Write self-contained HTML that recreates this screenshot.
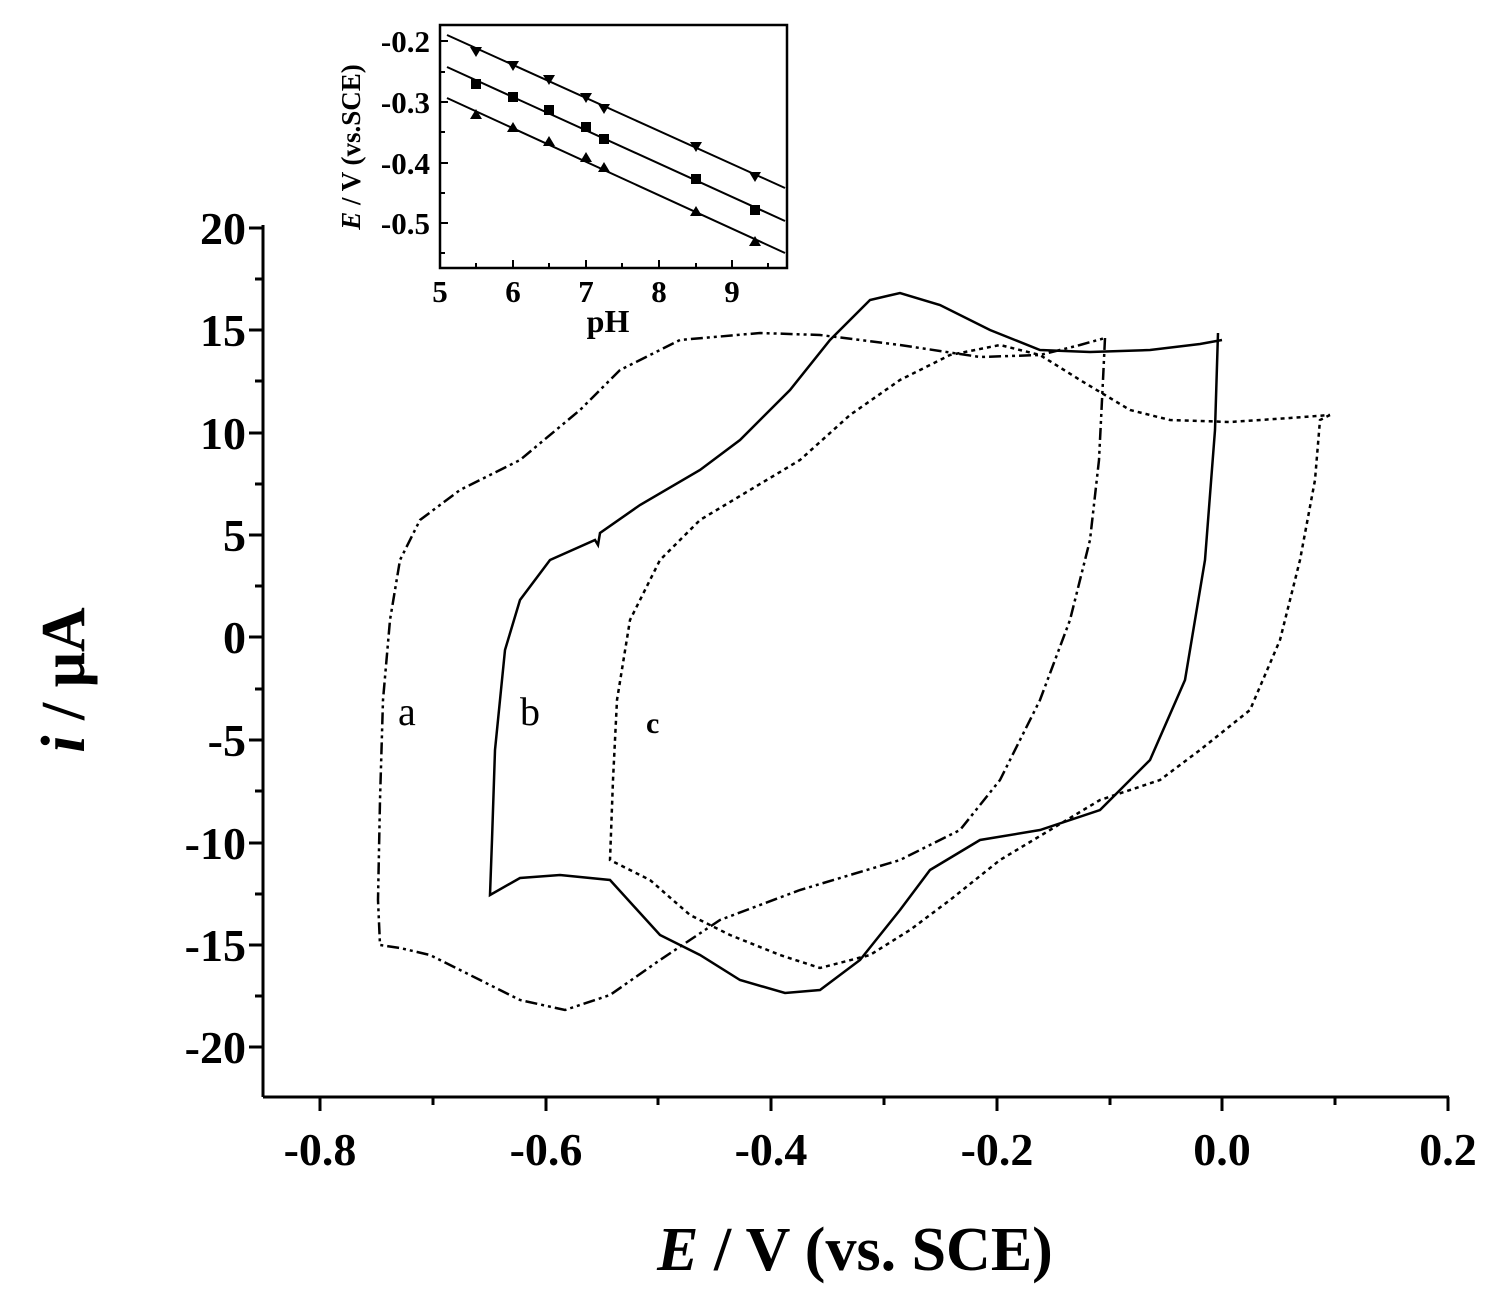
<!DOCTYPE html>
<html><head><style>body{margin:0;background:#fff}</style></head><body>
<svg width="1505" height="1310" xmlns="http://www.w3.org/2000/svg" font-family="Liberation Serif, serif" font-weight="bold">
<rect width="1505" height="1310" fill="#fff"/>
<g stroke="#000" stroke-width="3" fill="none">
<line x1="263" y1="225" x2="263" y2="1097"/>
<line x1="263" y1="1097" x2="1449" y2="1097"/>
<path d="M263 228h-14M263 330h-14M263 433h-14M263 535h-14M263 637h-14M263 740h-14M263 843h-14M263 945h-14M263 1047h-14"/>
<path d="M263 279h-8M263 381h-8M263 484h-8M263 586h-8M263 689h-8M263 791h-8M263 894h-8M263 996h-8"/>
<path d="M320 1097v14M546 1097v14M771 1097v14M997 1097v14M1222 1097v14M1448 1097v14"/>
<path d="M433 1097v8M658 1097v8M884 1097v8M1110 1097v8M1335 1097v8"/>
</g>
<g font-size="46" text-anchor="end">
<text x="246" y="244">20</text><text x="246" y="346">15</text><text x="246" y="449">10</text><text x="246" y="551">5</text><text x="246" y="653">0</text><text x="246" y="756">-5</text><text x="246" y="859">-10</text><text x="246" y="961">-15</text><text x="246" y="1063">-20</text>
</g>
<g font-size="46" text-anchor="middle">
<text x="320" y="1165">-0.8</text><text x="546" y="1165">-0.6</text><text x="771" y="1165">-0.4</text><text x="997" y="1165">-0.2</text><text x="1222" y="1165">0.0</text><text x="1448" y="1165">0.2</text>
</g>
<text x="855" y="1270" font-size="62" text-anchor="middle"><tspan font-style="italic">E</tspan> / V (vs. SCE)</text>
<text transform="translate(84,680) rotate(-90)" font-size="62" text-anchor="middle"><tspan font-style="italic">i</tspan> / μA</text>
<g fill="none" stroke="#000" stroke-width="2.5">
<path stroke-dasharray="12,4,3,4,3,4" d="M1105,338 L1103,380 L1099,460 L1090,540 L1070,620 L1040,700 L1000,780 L960,830 L900,860 L800,890 L720,920 L660,960 L610,995 L565,1010 L520,1000 L470,975 L430,955 L400,948 L380,945 L378,900 L380,800 L383,700 L390,620 L400,560 L420,520 L460,490 L520,460 L580,410 L620,370 L680,340 L760,333 L820,335 L900,345 L980,357 L1040,355 L1080,345 L1105,338"/>
<path d="M1218,333 L1215,430 L1205,560 L1185,680 L1150,760 L1100,810 L1040,830 L980,840 L930,870 L900,910 L860,960 L820,990 L785,993 L740,980 L700,955 L660,935 L610,880 L560,875 L520,878 L490,895 L492,840 L495,750 L505,650 L520,600 L550,560 L595,540 L598,545 L600,533 L640,505 L700,470 L740,440 L790,390 L830,340 L870,300 L900,293 L940,305 L990,330 L1040,350 L1090,352 L1150,350 L1200,344 L1222,340"/>
<path stroke-dasharray="4,4" d="M1330,415 L1320,420 L1315,480 L1300,560 L1280,640 L1250,710 L1200,750 L1160,780 L1100,800 L1050,830 L1000,860 L950,900 L910,930 L870,955 L820,968 L780,955 L730,935 L690,915 L650,880 L610,860 L613,780 L617,700 L630,620 L660,560 L700,520 L750,490 L800,460 L850,415 L900,380 L950,355 L1000,345 L1040,355 L1080,380 L1130,410 L1170,420 L1230,422 L1290,418 L1330,415"/>
</g>
<text x="398" y="725" font-size="40" font-weight="normal">a</text>
<text x="520" y="725" font-size="40" font-weight="normal">b</text>
<text x="646" y="733" font-size="30">c</text>
<rect x="440" y="25" width="347" height="243" fill="#fff" stroke="#000" stroke-width="2.5"/>
<g stroke="#000" stroke-width="2">
<path d="M440 41h8M440 102h8M440 163h8M440 223h8M440 72h5M440 132h5M440 193h5M440 253h5"/>
<path d="M513 268v-8M586 268v-8M659 268v-8M732 268v-8M476 268v-5M549 268v-5M622 268v-5M696 268v-5M768 268v-5"/>
<line x1="447" y1="35" x2="785" y2="188"/><line x1="447" y1="67" x2="785" y2="221"/><line x1="447" y1="98" x2="785" y2="253"/>
</g>
<g font-size="31" text-anchor="end">
<text x="430" y="52">-0.2</text><text x="430" y="113">-0.3</text><text x="430" y="174">-0.4</text><text x="430" y="234">-0.5</text>
</g>
<g font-size="31" text-anchor="middle">
<text x="440" y="302">5</text><text x="513" y="302">6</text><text x="586" y="302">7</text><text x="659" y="302">8</text><text x="732" y="302">9</text>
</g>
<text x="608" y="332" font-size="32" text-anchor="middle">pH</text>
<text transform="translate(360,147) rotate(-90)" font-size="27" text-anchor="middle"><tspan font-style="italic">E</tspan> / V (vs.SCE)</text>
<g fill="#000">
<path d="M470,47h12l-6,10zM507,61h12l-6,10zM543,75h12l-6,10zM580,93h12l-6,10zM598,104h12l-6,10zM690,142h12l-6,10zM749,172h12l-6,10z"/>
<path d="M471,79h10v10h-10zM508,92h10v10h-10zM544,105h10v10h-10zM581,122h10v10h-10zM599,134h10v10h-10zM691,174h10v10h-10zM750,205h10v10h-10z"/>
<path d="M470,119h12l-6,-10zM507,132h12l-6,-10zM543,146h12l-6,-10zM580,162h12l-6,-10zM598,172h12l-6,-10zM690,216h12l-6,-10zM749,246h12l-6,-10z"/>
</g>
</svg>
</body></html>
